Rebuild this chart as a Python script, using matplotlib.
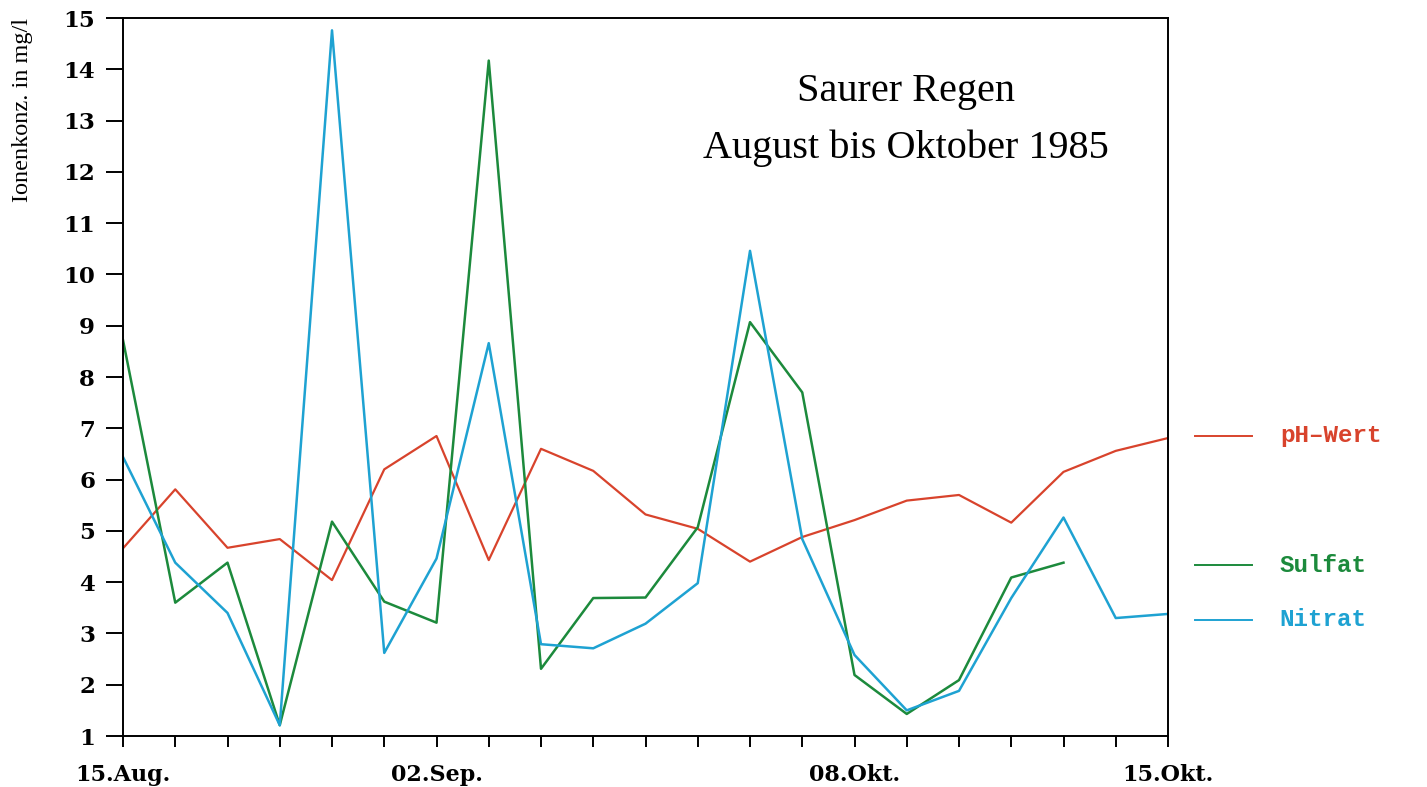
import matplotlib
matplotlib.use("Agg")
import matplotlib.pyplot as plt

# Messtage (Index 0 = 15.Aug., 20 = 15.Okt.)
tage = list(range(21))
tick_labels = ["15.Aug.", "", "", "", "", "", "02.Sep.", "", "", "", "", "", "", "",
               "08.Okt.", "", "", "", "", "", "15.Okt."]

ph_wert = [4.66, 5.81, 4.67, 4.84, 4.04, 6.2, 6.85, 4.43, 6.6, 6.17, 5.32,
           5.04, 4.4, 4.88, 5.21, 5.59, 5.7, 5.16, 6.15, 6.56, 6.81]
sulfat = [8.72, 3.6, 4.38, 1.21, 5.18, 3.62, 3.21, 14.17, 2.31, 3.69, 3.7,
          5.07, 9.07, 7.7, 2.19, 1.43, 2.09, 4.09, 4.38]
nitrat = [6.44, 4.38, 3.4, 1.21, 14.76, 2.62, 4.46, 8.66, 2.79, 2.71, 3.19,
          3.98, 10.46, 4.84, 2.58, 1.5, 1.88, 3.69, 5.26, 3.3, 3.38]

RED = "#d8432c"
GREEN = "#1c8a3c"
BLUE = "#1ea2d2"

fig = plt.figure(figsize=(14.27, 7.87), dpi=100)
ax = fig.add_axes([0.0862, 0.0648, 0.7323, 0.9123])

ax.plot(tage, ph_wert, color=RED, linewidth=1.6)
ax.plot(tage[:len(sulfat)], sulfat, color=GREEN, linewidth=1.8)
ax.plot(tage, nitrat, color=BLUE, linewidth=1.8)

ax.set_xlim(0, 20)
ax.set_ylim(1, 15)
ax.set_xticks(tage)
ax.set_xticklabels(tick_labels, fontfamily="DejaVu Serif", fontweight="bold", fontsize=16)
ax.set_yticks(range(1, 16))
ax.set_yticklabels([str(v) for v in range(1, 16)], fontfamily="DejaVu Serif",
                   fontweight="bold", fontsize=16.5)
ax.tick_params(axis="x", direction="out", length=8, width=1.4, pad=12)
ax.tick_params(axis="y", direction="out", length=12, width=1.4, pad=8)
for s in ax.spines.values():
    s.set_linewidth(1.4)

ax.set_ylabel("Ionenkonz. in mg/l", fontfamily="Liberation Serif", fontsize=17.5)
ax.yaxis.set_label_coords(-0.086, 0.872)

ax.text(0.749, 0.897, "Saurer Regen", transform=ax.transAxes, ha="center", va="center",
        fontfamily="Liberation Serif", fontsize=29)
ax.text(0.749, 0.819, "August bis Oktober 1985", transform=ax.transAxes, ha="center",
        va="center", fontfamily="Liberation Serif", fontsize=29)

# Legende rechts neben der Achse
legende = [("pH–Wert", RED, 0.418), ("Sulfat", GREEN, 0.238), ("Nitrat", BLUE, 0.1616)]
for name, col, yy in legende:
    ax.plot([1.026, 1.080], [yy, yy], color=col, linewidth=1.4,
            transform=ax.transAxes, clip_on=False)
    ax.text(1.107, yy, name, transform=ax.transAxes, ha="left", va="center",
            color=col, fontfamily=["Liberation Mono", "DejaVu Sans Mono"],
            fontweight="bold", fontsize=17.5)

fig.savefig("out.png", dpi=100, facecolor="white")
